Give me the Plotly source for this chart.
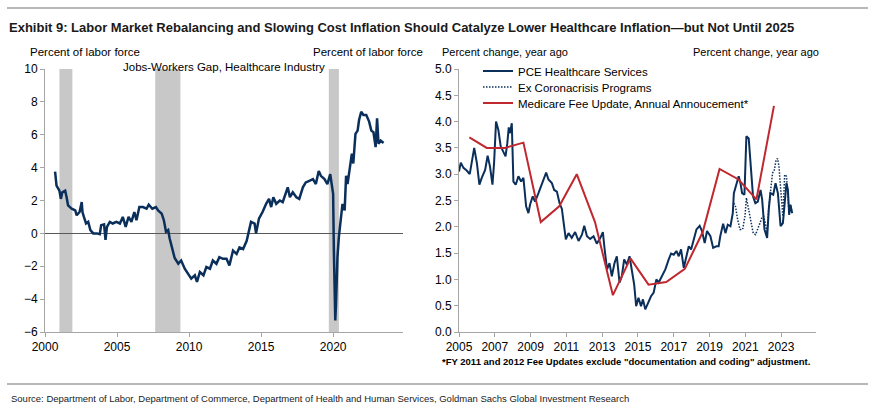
import plotly.graph_objects as go

W, H = 876, 413
NAVY = "#0b2f5b"
RED = "#c0282f"
AXIS = "#a6a6a6"
SANS = "Liberation Sans, Arial, sans-serif"

# ---- Left chart: Jobs-Workers Gap, Healthcare Industry (percent of labor force)
gap_year = [2000.7, 2000.8, 2001.0, 2001.1, 2001.2, 2001.4, 2001.5, 2001.6, 2001.85, 2002.1,
            2002.2, 2002.4, 2002.55, 2002.6, 2002.7, 2002.85, 2003.0, 2003.15, 2003.35, 2003.6,
            2003.8, 2003.9, 2004.1, 2004.2, 2004.3, 2004.5, 2004.7, 2004.95, 2005.2, 2005.4,
            2005.6, 2005.8, 2006.0, 2006.2, 2006.35, 2006.55, 2006.8, 2007.05, 2007.2, 2007.45,
            2007.7, 2007.85, 2008.1, 2008.25, 2008.4, 2008.55, 2008.65, 2008.85, 2009.0, 2009.25,
            2009.45, 2009.7, 2009.9, 2010.15, 2010.4, 2010.55, 2010.75, 2011.0, 2011.2, 2011.45,
            2011.65, 2011.9, 2012.1, 2012.35, 2012.6, 2012.8, 2013.05, 2013.3, 2013.5, 2013.75,
            2014.0, 2014.15, 2014.3, 2014.55, 2014.65, 2014.85, 2015.1, 2015.35, 2015.55, 2015.7,
            2015.85, 2016.05, 2016.3, 2016.5, 2016.7, 2016.85, 2017.0, 2017.2, 2017.45, 2017.65,
            2017.9, 2018.1, 2018.35, 2018.6, 2018.8, 2019.0, 2019.15, 2019.4, 2019.6, 2019.8,
            2019.9, 2020.0, 2020.05, 2020.15, 2020.2, 2020.3, 2020.4, 2020.55, 2020.65, 2020.8,
            2020.9, 2021.0, 2021.2, 2021.3, 2021.4, 2021.55, 2021.7, 2021.8, 2021.95, 2022.1,
            2022.3, 2022.5, 2022.65, 2022.8, 2022.95, 2023.05, 2023.15, 2023.3, 2023.5]
gap_val = [3.75, 2.9, 2.6, 2.1, 2.5, 2.6, 2.2, 1.7, 1.5, 1.4,
           1.1, 1.3, 1.9, 1.3, 1.0, 0.6, 0.7, 0.2, 0.0, 0.0,
           -0.05, 0.5, 0.55, -0.4, 0.4, 0.7, 0.6, 0.7, 0.6, 1.0,
           0.4, 1.0, 0.7, 1.3, 0.8, 1.6, 1.6, 1.5, 1.75, 1.5,
           1.6, 1.4, 1.2, 0.8, 0.1, 0.2, -0.3, -1.0, -1.5, -1.85,
           -1.65, -2.15, -2.45, -2.75, -2.55, -2.95, -2.35, -2.55, -2.05, -2.15,
           -1.65, -1.85, -1.45, -1.55, -1.55, -1.95, -1.05, -1.25, -0.85, -0.95,
           -0.45, 0.1, 0.7, 0.6, 0.0, 0.9, 1.3, 1.8, 2.1, 1.6,
           2.2, 1.8, 2.0, 1.9, 2.5, 2.8, 2.2, 2.5, 2.2, 2.1,
           2.8, 3.1, 3.2, 3.3, 3.0, 3.8, 3.5, 3.3, 3.0, 3.6,
           3.0, 2.4, -1.0, -5.3, -4.3, -1.45, -0.2, 1.0, 1.8, 1.4,
           3.5, 3.0, 4.45, 4.85, 4.25, 6.05, 6.25, 6.9, 7.4, 7.2,
           7.2, 6.8, 6.25, 6.15, 5.25, 7.0, 5.45, 5.65, 5.5]

rec_start = [2001.0, 2007.65, 2019.7]
rec_end = [2001.9, 2009.4, 2020.4]

# ---- Right chart: PCE healthcare services inflation (percent change, year ago)
pce_year = [2005.0, 2005.1, 2005.25, 2005.43, 2005.6, 2005.77, 2005.85, 2006.0, 2006.14, 2006.27,
            2006.46, 2006.6, 2006.73, 2006.87, 2006.96, 2007.07, 2007.2, 2007.33, 2007.48, 2007.6,
            2007.7, 2007.78, 2007.85, 2007.95, 2008.04, 2008.17, 2008.32, 2008.47, 2008.6, 2008.75,
            2008.88, 2008.97, 2009.12, 2009.25, 2009.44, 2009.59, 2009.72, 2009.87, 2010.0, 2010.19,
            2010.32, 2010.47, 2010.62, 2010.75, 2010.84, 2010.97, 2011.12, 2011.3, 2011.49, 2011.68,
            2011.87, 2012.0, 2012.15, 2012.33, 2012.52, 2012.7, 2012.9, 2013.04, 2013.12, 2013.27,
            2013.41, 2013.54, 2013.69, 2013.82, 2013.97, 2014.1, 2014.23, 2014.38, 2014.53, 2014.66,
            2014.79, 2014.9, 2015.03, 2015.17, 2015.28, 2015.41, 2015.6, 2015.73, 2015.88, 2016.03,
            2016.16, 2016.34, 2016.53, 2016.72, 2016.85, 2017.0, 2017.15, 2017.28, 2017.41, 2017.56,
            2017.69, 2017.84, 2017.97, 2018.12, 2018.27, 2018.45, 2018.58, 2018.73, 2018.86, 2019.05,
            2019.2, 2019.38, 2019.51, 2019.6, 2019.76, 2019.89, 2020.02, 2020.17, 2020.3, 2020.36,
            2020.5, 2020.63, 2020.73, 2020.82, 2020.95, 2021.06, 2021.19, 2021.32, 2021.43, 2021.56,
            2021.7, 2021.85, 2021.94, 2022.07, 2022.22, 2022.31, 2022.4, 2022.56, 2022.69, 2022.82,
            2022.97, 2023.1, 2023.21, 2023.3, 2023.38, 2023.45, 2023.52, 2023.62]
pce_val = [3.05, 3.22, 3.12, 3.07, 3.0, 3.34, 3.5, 3.21, 2.8, 2.93,
           3.08, 3.35, 3.15, 2.8, 3.21, 4.0, 3.84, 3.53, 3.43, 3.34,
           3.59, 3.89, 3.78, 3.97, 2.86, 2.8, 2.96, 2.86, 2.93, 2.39,
           2.26, 2.42, 2.58, 2.48, 2.64, 2.77, 2.9, 3.03, 2.9, 2.83,
           2.7, 2.67, 2.45, 2.34, 2.1, 1.76, 1.88, 1.79, 1.9, 1.73,
           1.85, 2.02, 1.82, 1.77, 1.82, 1.68, 1.79, 1.9, 1.63, 1.19,
           1.31, 1.06, 1.31, 1.44, 0.94, 1.06, 1.38, 1.28, 1.44, 1.19,
           0.9, 0.49, 0.65, 0.49, 0.62, 0.43, 0.56, 0.68, 0.75, 1.0,
           0.94, 1.06, 1.19, 1.38, 1.49, 1.47, 1.54, 1.44, 1.57, 1.22,
           1.44, 1.63, 1.57, 1.76, 1.95, 2.02, 1.92, 1.69, 1.92, 1.82,
           1.6, 1.63, 1.63, 1.82, 2.06, 1.88, 2.04, 2.01, 2.26, 2.64,
           2.83, 2.96, 2.83, 2.64, 2.61, 3.72, 3.68, 3.08, 2.58, 2.45,
           2.48, 2.7, 2.52, 1.95, 1.79, 2.33, 2.64, 2.61, 2.83, 2.64,
           2.01, 2.07, 2.58, 2.83, 2.7, 2.23, 2.42, 2.26]

# Ex coronacrisis programs
ex_year = [2020.36, 2020.45, 2020.57, 2020.7, 2020.85, 2020.98, 2021.06, 2021.16, 2021.3, 2021.44,
           2021.57, 2021.7, 2021.82, 2021.92, 2022.02, 2022.12, 2022.22, 2022.32, 2022.42, 2022.52,
           2022.62, 2022.72, 2022.8, 2022.88, 2022.95, 2023.03, 2023.1, 2023.2, 2023.3, 2023.38,
           2023.45, 2023.52, 2023.62]
ex_val = [2.45, 2.39, 2.14, 1.95, 1.95, 2.2, 2.55, 2.39, 2.14, 1.88,
          1.85, 1.95, 2.07, 2.17, 2.2, 2.07, 1.88, 2.39, 2.77, 3.02,
          3.08, 3.27, 3.3, 3.15, 2.83, 2.39, 2.2, 2.99, 2.96, 2.58,
          2.23, 2.42, 2.26]

# Medicare fee update, annual announcement
fee_year = [2005.58, 2006.55, 2007.57, 2008.6, 2009.57, 2010.6, 2011.58, 2012.6, 2013.6, 2014.58,
            2015.59, 2016.58, 2017.62, 2018.62, 2019.56, 2020.62, 2021.62, 2022.6]
fee_val = [3.7, 3.5, 3.5, 3.6, 2.09, 2.39, 3.0, 2.09, 0.7, 1.4,
           0.9, 0.95, 1.2, 1.9, 3.1, 2.9, 2.52, 4.3]

left_ticks = [2000, 2005, 2010, 2015, 2020]
right_ticks = [2005, 2007, 2009, 2011, 2013, 2015, 2017, 2019, 2021, 2023]


def px(x):
    return x / W


def py(y):
    return 1 - y / H


fig = go.Figure()

fig.add_trace(go.Scatter(x=gap_year, y=gap_val, mode="lines", xaxis="x", yaxis="y",
                         line=dict(color=NAVY, width=2.5), showlegend=False))
fig.add_trace(go.Scatter(x=pce_year, y=pce_val, mode="lines", xaxis="x2", yaxis="y3",
                         name="PCE Healthcare Services", legend="legend",
                         line=dict(color=NAVY, width=2)))
fig.add_trace(go.Scatter(x=ex_year, y=ex_val, mode="lines", xaxis="x2", yaxis="y3",
                         name="Ex Coronacrisis Programs", legend="legend2",
                         line=dict(color=NAVY, width=1.5, dash="1.5px,1.5px")))
fig.add_trace(go.Scatter(x=fee_year, y=fee_val, mode="lines", xaxis="x2", yaxis="y3",
                         name="Medicare Fee Update, Annual Annoucement*", legend="legend3",
                         line=dict(color=RED, width=2)))

shapes = []
for s, e in zip(rec_start, rec_end):
    shapes.append(dict(type="rect", xref="x", yref="y", x0=s, x1=e, y0=-6, y1=10,
                       fillcolor="#c8c8c8", line=dict(width=0), layer="below"))
for yy in (8, 384):
    shapes.append(dict(type="line", xref="paper", yref="paper", x0=px(7), x1=px(868),
                       y0=py(yy), y1=py(yy), line=dict(color="#a0a0a0", width=1.5)))

ydom = [py(332), py(69)]
axis_common = dict(showgrid=False, zeroline=False, showline=True, linecolor=AXIS, linewidth=1,
                   ticks="outside", ticklen=4, tickcolor=AXIS, automargin=False,
                   tickfont=dict(family=SANS, size=12, color="black"))

leg_common = dict(xanchor="left", yanchor="middle", bgcolor="rgba(0,0,0,0)", borderwidth=0,
                  font=dict(family=SANS, size=11.5, color="black"), itemwidth=30)

fig.update_layout(
    template="none",
    width=W, height=H, margin=dict(l=0, r=0, t=0, b=0, pad=0), autosize=False,
    paper_bgcolor="white", plot_bgcolor="white",
    font=dict(family=SANS, color="black"),
    shapes=shapes,
    xaxis=dict(domain=[px(45), px(403)], range=[2000, 2024.85], tickvals=left_ticks, anchor="y", **axis_common),
    yaxis=dict(domain=ydom, range=[-6, 10], dtick=2, anchor="x", **{**axis_common, "zeroline": True},
               zerolinecolor="#595959", zerolinewidth=1),
    yaxis2=dict(domain=ydom, range=[-6, 10], dtick=2, anchor="x", overlaying="y", side="right", **axis_common),
    xaxis2=dict(domain=[px(459), px(816)], range=[2005, 2024.95], tickvals=right_ticks, anchor="y3", **axis_common),
    yaxis3=dict(domain=ydom, range=[0, 5], dtick=0.5, tickformat=".1f", anchor="x2", **axis_common),
    yaxis4=dict(domain=ydom, range=[0, 5], dtick=0.5, tickformat=".1f", anchor="x2", overlaying="y3",
                side="right", **axis_common),
    legend=dict(x=px(478), y=py(71), **leg_common),
    legend2=dict(x=px(478), y=py(87), **leg_common),
    legend3=dict(x=px(478), y=py(103), **leg_common),
    showlegend=True,
)

ann = [
    dict(x=px(7), y=py(27), xanchor="left", yanchor="middle",
         text="<b>Exhibit 9: Labor Market Rebalancing and Slowing Cost Inflation Should Catalyze Lower Healthcare Inflation\u2014but Not Until 2025</b>",
         font=dict(family=SANS, size=13, color="#1a1a1a")),
    dict(x=px(28), y=py(52), xanchor="left", yanchor="middle", text="Percent of labor force",
         font=dict(family=SANS, size=11.5, color="black")),
    dict(x=px(425), y=py(52), xanchor="right", yanchor="middle", text="Percent of labor force",
         font=dict(family=SANS, size=11.5, color="black")),
    dict(x=px(440), y=py(52), xanchor="left", yanchor="middle", text="Percent change, year ago",
         font=dict(family=SANS, size=11, color="black")),
    dict(x=px(821), y=py(52), xanchor="right", yanchor="middle", text="Percent change, year ago",
         font=dict(family=SANS, size=11, color="black")),
    dict(x=px(224), y=py(67), xanchor="center", yanchor="middle", text="Jobs-Workers Gap, Healthcare Industry",
         font=dict(family=SANS, size=11.5, color="black")),
    dict(x=px(440), y=py(361), xanchor="left", yanchor="middle",
         text="<b>*FY 2011 and 2012 Fee Updates exclude \"documentation and coding\" adjustment.</b>",
         font=dict(family=SANS, size=9.5, color="black")),
    dict(x=px(9), y=py(398), xanchor="left", yanchor="middle",
         text="Source: Department of Labor, Department of Commerce, Department of Health and Human Services, Goldman Sachs Global Investment Research",
         font=dict(family=SANS, size=9.5, color="#1a1a1a")),
]
for a in ann:
    a.update(xref="paper", yref="paper", showarrow=False)
fig.update_layout(annotations=ann)

fig.write_html("out.html", config={"displayModeBar": False},
               post_script="document.body.style.margin='0';")
